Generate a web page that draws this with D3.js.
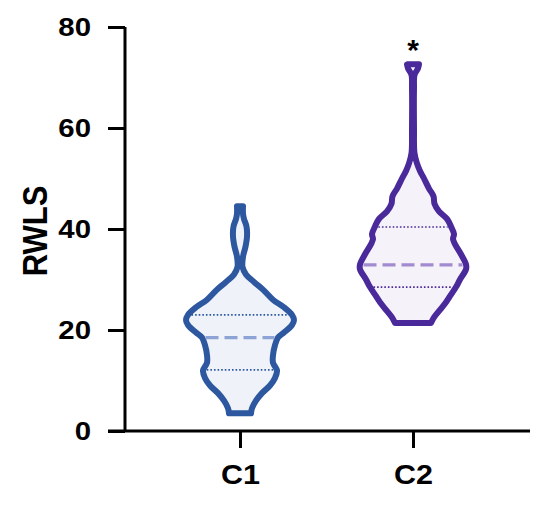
<!DOCTYPE html>
<html>
<head>
<meta charset="utf-8">
<script src="https://cdn.jsdelivr.net/npm/d3@7"></script>
<style>
html,body{margin:0;padding:0;background:#fff;}
svg{display:block;}
text{font-family:"Liberation Sans",Arial,sans-serif;font-weight:bold;fill:#000;}
</style>
</head>
<body>
<svg id="chart" width="550" height="505"></svg>
<script>
// ---- data ----
const categories = ["C1", "C2"];
const yTicks = [0, 20, 40, 60, 80];
const yLabel = "RWLS";
// density profiles: [value, relative half-width]
const profileC1 = [
  [44.5, 3], [43, 3], [42, 4], [40.5, 6.5], [38.5, 7], [36.5, 5.5], [34.5, 3], [32.5, 2.5],
  [31, 6], [29.5, 14], [28, 23], [26, 33], [24.5, 44], [23, 52], [22, 54], [21, 52],
  [19.5, 44], [18.5, 38], [17, 35], [15, 33], [13.5, 33], [12, 37], [10.5, 35], [9, 30],
  [7.5, 22], [6, 16], [4.5, 12], [3.5, 11]
];
const profileC2 = [
  [72.6, 6], [71.8, 5], [70.5, 1.5], [68, 1], [60, 1], [55, 1.5], [53, 4], [51.5, 7],
  [50, 11], [48, 16], [46.5, 20.5], [45, 21.5], [43.5, 26], [42, 34], [40.5, 38], [39, 41],
  [38, 40], [37, 42], [35, 48], [33, 53], [32, 53], [30, 47], [28.5, 43], [27, 38],
  [25.5, 33], [24, 27], [22.5, 21], [21.4, 18]
];
const medians = [18.5, 32.9];
const q1s = [12.1, 28.5];
const q3s = [23, 40.4];
const significance = ["", "*"];
const strokeColors = ["#2d58a0", "#4a2a9a"];
const fillColors = ["#eff3f9", "#f5f2f9"];
const medianColors = ["#8da3d6", "#a28bd0"];

// ---- layout ----
const svg = d3.select("#chart");
const x = d3.scalePoint().domain(categories).range([240, 413]);
const y = d3.scaleLinear().domain([0, 80]).range([431, 27]);
const wScale = d3.scaleLinear().domain([0, 1]).range([0, 1]);
const profiles = [profileC1, profileC2];
const SW = 6;
const STRETCH = 1.13;

function halfWidthAt(profile, v) {
  const sorted = profile.slice().sort((a, b) => a[0] - b[0]);
  for (let i = 0; i < sorted.length - 1; i++) {
    const a = sorted[i], b = sorted[i + 1];
    if (v >= a[0] && v <= b[0]) {
      const t = (v - a[0]) / (b[0] - a[0]);
      return a[1] + t * (b[1] - a[1]);
    }
  }
  return 0;
}
function stretch(sel) {
  sel.each(function () {
    const len = this.getComputedTextLength();
    d3.select(this).attr("textLength", len * STRETCH).attr("lengthAdjust", "spacingAndGlyphs");
  });
}

categories.forEach((c, i) => {
  const cx = x(c);
  const prof = profiles[i];
  const area = d3.area()
    .y(d => y(d[0]))
    .x0(d => cx - wScale(d[1]))
    .x1(d => cx + wScale(d[1]))
    .curve(d3.curveCatmullRom.alpha(0.5));
  svg.append("path")
    .datum(prof)
    .attr("d", area)
    .attr("fill", fillColors[i])
    .attr("stroke", strokeColors[i])
    .attr("stroke-width", SW)
    .attr("stroke-linejoin", "round");

  const qline = (v, dash, color, w) => {
    const hw = wScale(halfWidthAt(prof, v)) - SW / 2 - 0.5;
    svg.append("line")
      .attr("x1", cx - hw).attr("x2", cx + hw)
      .attr("y1", y(v)).attr("y2", y(v))
      .attr("stroke", color).attr("stroke-width", w)
      .attr("stroke-dasharray", dash);
  };
  qline(q3s[i], "1.6,2", strokeColors[i], 1.7);
  qline(q1s[i], "1.6,2", strokeColors[i], 1.7);
  qline(medians[i], "13,6", medianColors[i], 3.4);

  if (significance[i]) {
    svg.append("text")
      .attr("x", cx).attr("y", 60)
      .attr("text-anchor", "middle")
      .attr("font-size", 30)
      .text(significance[i]);
  }
});

// axes
const yAxis = svg.append("g").attr("transform", "translate(125,0)")
  .call(d3.axisLeft(y).tickValues(yTicks).tickSize(17).tickPadding(17));
yAxis.select(".domain").attr("stroke", "#000").attr("stroke-width", 3).attr("d", `M0,${y(80)}V${y(0)}`);
yAxis.selectAll(".tick line").attr("stroke", "#000").attr("stroke-width", 3);
yAxis.selectAll(".tick text").attr("font-size", 26).attr("font-family", "Liberation Sans, Arial, sans-serif").attr("font-weight", "bold").attr("fill", "#000").call(stretch);

const xAxis = svg.append("g").attr("transform", "translate(0,431)")
  .call(d3.axisBottom(x).tickSize(17).tickPadding(17));
xAxis.select(".domain").attr("stroke", "#000").attr("stroke-width", 3).attr("d", "M108,0H530");
xAxis.selectAll(".tick line").attr("stroke", "#000").attr("stroke-width", 3);
xAxis.selectAll(".tick text").attr("font-size", 27).attr("font-family", "Liberation Sans, Arial, sans-serif").attr("font-weight", "bold").attr("fill", "#000").call(stretch);

svg.append("text")
  .attr("transform", "translate(35,231) rotate(-90) scale(1,1.13)")
  .attr("text-anchor", "middle")
  .attr("dy", "0.35em")
  .attr("font-size", 31)
  .text(yLabel);
</script>
</body>
</html>
